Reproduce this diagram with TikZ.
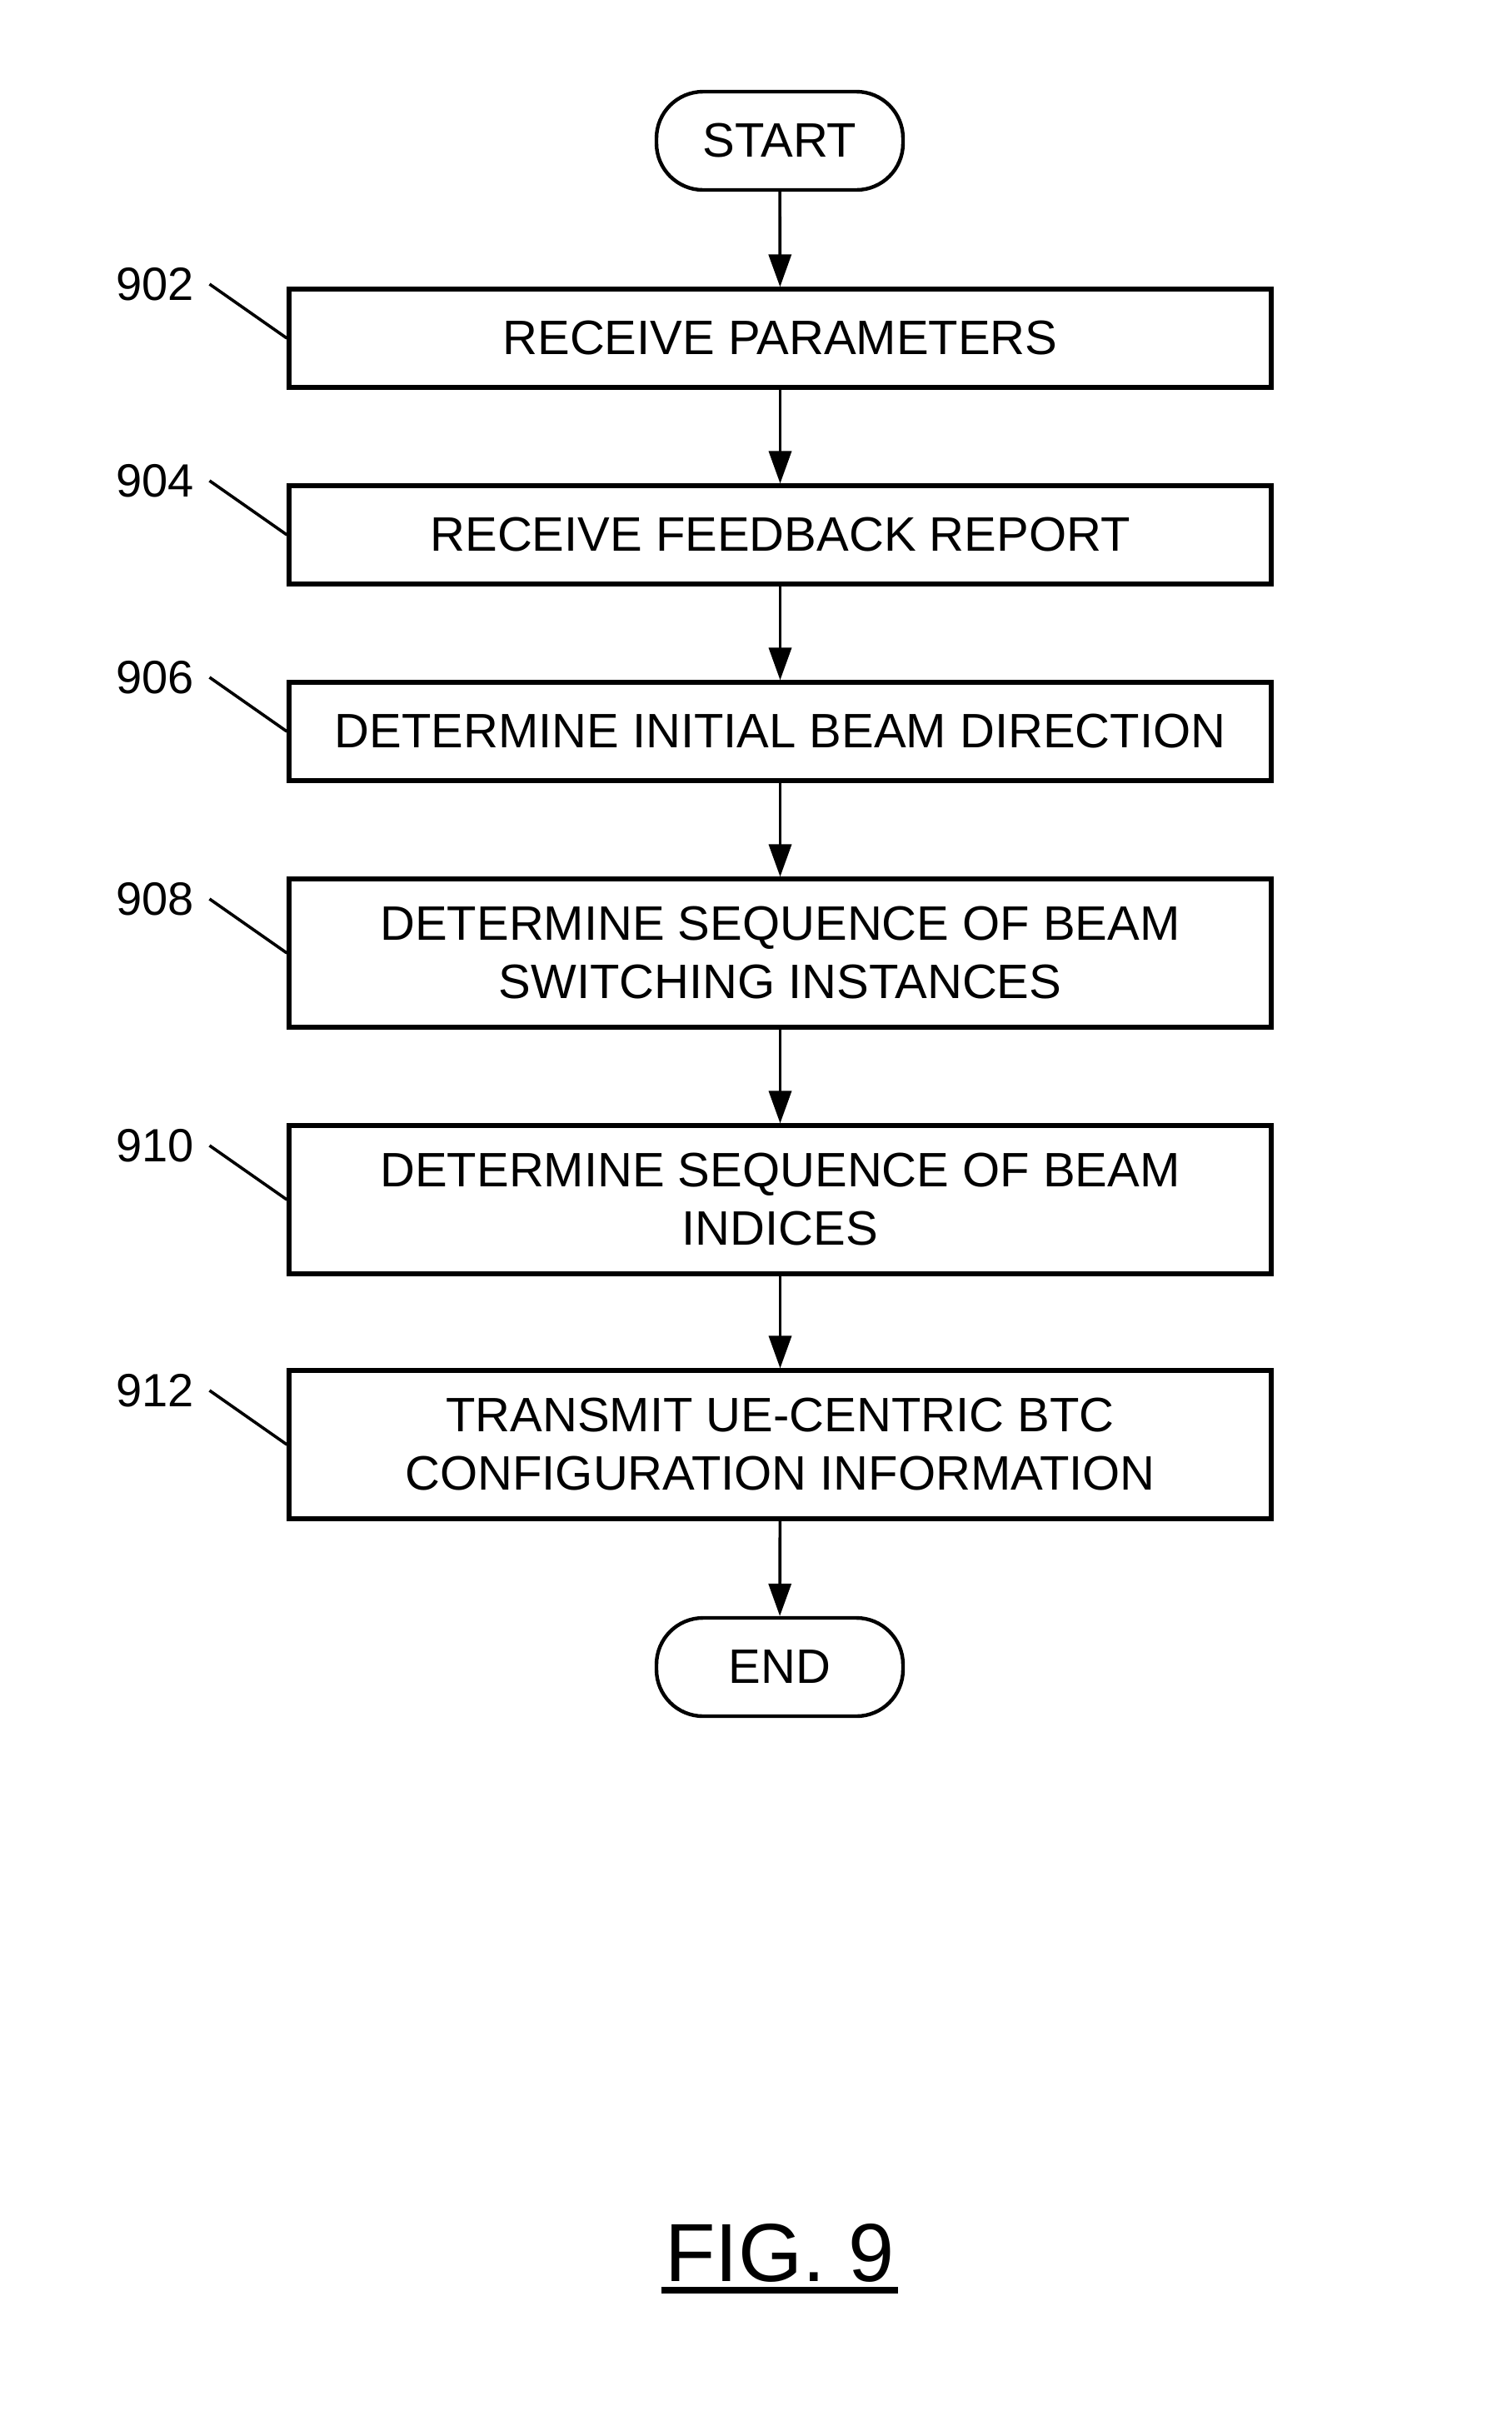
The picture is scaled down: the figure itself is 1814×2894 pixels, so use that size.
\documentclass[tikz,border=0pt]{standalone}
\usepackage{fontspec}
\setmainfont{Liberation Sans}
\usetikzlibrary{arrows.meta}
\begin{document}
\begin{tikzpicture}[x=0.25pt,y=-0.25pt,
  stepbox/.style={draw, line width=1.3pt, minimum width=294.75pt, minimum height=29.5pt, inner sep=0pt, align=center, font=\fontsize{14.5pt}{17.5pt}\selectfont},
  tallbox/.style={stepbox, minimum height=44.5pt},
  term/.style={draw, line width=1.1pt, rounded corners=14pt, minimum width=74pt, minimum height=29.5pt, inner sep=0pt, font=\fontsize{14.5pt}{17.5pt}\selectfont},
  flow/.style={line width=0.9pt, -{Triangle[length=9.75pt,width=6.75pt]}},
  reflabel/.style={inner sep=0pt, font=\fontsize{14pt}{16pt}\selectfont},
  leader/.style={line width=0.9pt}]
\useasboundingbox (0,0) rectangle (1814,2894);

\node[term] (start) at (936,169) {START};
\node[stepbox] (b902) at (936.5,406) {RECEIVE PARAMETERS};
\node[stepbox] (b904) at (936.5,642) {RECEIVE FEEDBACK REPORT};
\node[stepbox] (b906) at (936.5,878) {DETERMINE INITIAL BEAM DIRECTION};
\node[tallbox] (b908) at (936.5,1144) {DETERMINE SEQUENCE OF BEAM\\SWITCHING INSTANCES};
\node[tallbox] (b910) at (936.5,1440) {DETERMINE SEQUENCE OF BEAM\\INDICES};
\node[tallbox] (b912) at (936.5,1734) {TRANSMIT UE-CENTRIC BTC\\CONFIGURATION INFORMATION};
\node[term] (end) at (936,2001) {END};

\draw[flow] (start) -- (b902);
\draw[flow] (b902) -- (b904);
\draw[flow] (b904) -- (b906);
\draw[flow] (b906) -- (b908);
\draw[flow] (b908) -- (b910);
\draw[flow] (b910) -- (b912);
\draw[flow] (b912) -- (end);

\node[reflabel] (l902) at (186,341) {902};
\node[reflabel] (l904) at (186,577) {904};
\node[reflabel] (l906) at (186,813) {906};
\node[reflabel] (l908) at (186,1079) {908};
\node[reflabel] (l910) at (186,1375) {910};
\node[reflabel] (l912) at (186,1669) {912};

\foreach \n in {902,904,906,908,910,912}{
  \draw[leader] ([xshift=4.5pt]l\n.east) -- (b\n.west);
}

\node[inner sep=0pt, anchor=base, font=\fontsize{24.75pt}{28pt}\selectfont] (fig) at (936,2738) {FIG. 9};
\draw[line width=2pt] ([yshift=-2.75pt,xshift=-1pt]fig.base west) -- ([yshift=-2.75pt,xshift=1pt]fig.base east);
\end{tikzpicture}
\end{document}
